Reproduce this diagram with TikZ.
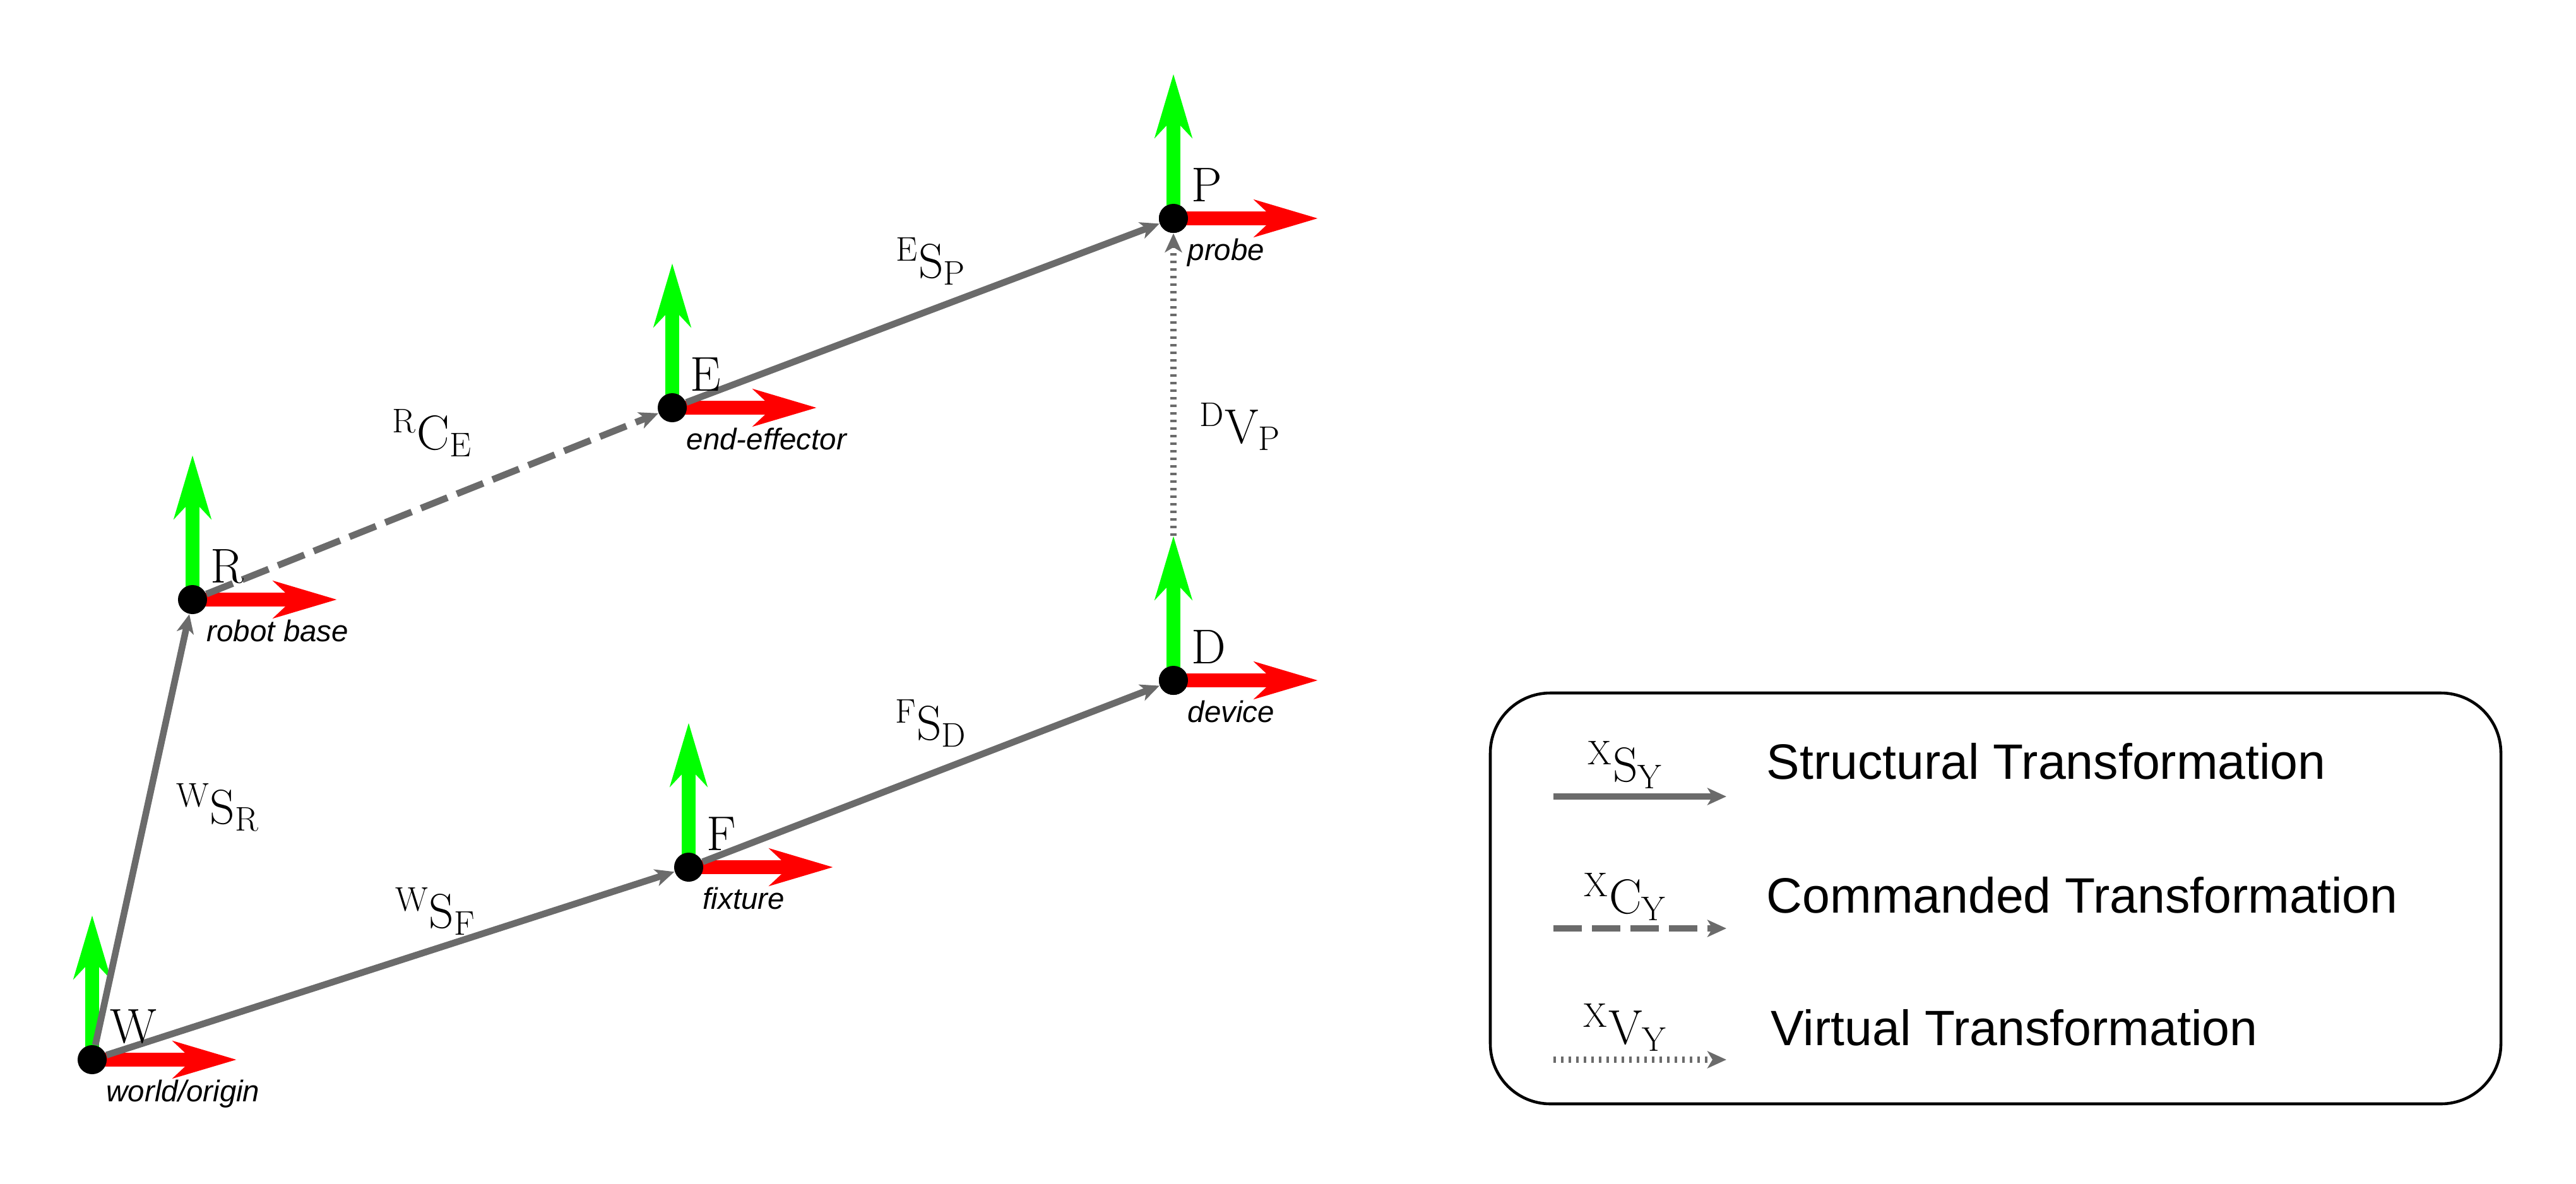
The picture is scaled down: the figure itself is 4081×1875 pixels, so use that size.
\documentclass[tikz,border=0pt]{standalone}
\usepackage{fontspec}
\newfontfamily\arial{Liberation Sans}
\usetikzlibrary{arrows.meta,calc}
\definecolor{cgray}{HTML}{6B6B6B}
\definecolor{cgreen}{HTML}{00FF00}
\definecolor{cred}{HTML}{FF0000}
\begin{document}
\begin{tikzpicture}[x=0.01cm,y=-0.01cm,
  dot/.style={circle,fill=black,inner sep=0pt,minimum size=0.46cm},
  axis/.style={line width=6.2pt,-{Stealth[length=1cm,width=0.58cm,inset=0.3cm]}},
  xax/.style={axis,cred},
  yax/.style={axis,cgreen},
  tr/.style={line width=3pt,cgray,-{Stealth[length=0.3cm,width=0.27cm,inset=0.08cm]}},
  cmd/.style={tr,dash pattern=on 0.45cm off 0.16cm},
  vir/.style={tr,dash pattern=on 0.04cm off 0.08cm},
  let/.style={anchor=base west,inner sep=0pt,font=\fontsize{22}{26}\selectfont},
  nm/.style={anchor=base west,inner sep=0pt,font=\arial\itshape\fontsize{13.5}{16}\selectfont},
  tl/.style={anchor=base,inner sep=0pt,font=\fontsize{22}{26}\selectfont},
  lg/.style={anchor=base west,inner sep=0pt,font=\arial\fontsize{22.4}{26}\selectfont}]
\useasboundingbox (0,0) rectangle (4081,1875);
\coordinate (w) at (146,1679);
\coordinate (r) at (305,950);
\coordinate (e) at (1065,646);
\coordinate (p) at (1859,346);
\coordinate (f) at (1091,1374);
\coordinate (d) at (1859,1078);
\foreach \c in {w,r,e,p,f,d}{
  \coordinate (\c x) at ($(\c)+(229,0)$);
  \coordinate (\c y) at ($(\c)+(0,-229)$);
}
\node[dot] (P) at (p) {};
\node[dot] (D) at (d) {};
\draw[vir] (dy) -- (P);
\foreach \c in {w,r,e,p,f,d}{
  \draw[yax] (\c) -- (\c y);
  \draw[xax] (\c) -- (\c x);
}
\node[dot] (W) at (w) {};
\node[dot] (R) at (r) {};
\node[dot] (E) at (e) {};
\node[dot] (P2) at (p) {};
\node[dot] (F) at (f) {};
\node[dot] (D2) at (d) {};
\draw[tr] (W) -- (R);
\draw[tr] (W) -- (F);
\draw[cmd] (R) -- (E);
\draw[tr] (E) -- (P2);
\draw[tr] (F) -- (D2);
\foreach \c/\l/\n in {w/W/world\slash origin, r/R/robot base, e/E/end-effector, p/P/probe, f/F/fixture, d/D/device}{
  \node[let] at ($(\c)+(28,-27)$) {\l};
  \node[nm] at ($(\c)+(22,66)$) {\n};
}
\node[tl] (lwr) at (345,1305) {$^{\mathrm{W}}\mathrm{S}_{\mathrm{R}}$};
\node[tl] (lwf) at (690,1470) {$^{\mathrm{W}}\mathrm{S}_{\mathrm{F}}$};
\node[tl] (lre) at (685,712) {$^{\mathrm{R}}\mathrm{C}_{\mathrm{E}}$};
\node[tl] (lep) at (1475,440) {$^{\mathrm{E}}\mathrm{S}_{\mathrm{P}}$};
\node[tl] (lfd) at (1475,1172) {$^{\mathrm{F}}\mathrm{S}_{\mathrm{D}}$};
\node[tl] (ldp) at (1965,702) {$^{\mathrm{D}}\mathrm{V}_{\mathrm{P}}$};
\draw[line width=1.3pt,rounded corners=0.95cm] (2361,1098) rectangle (3962,1749);
\coordinate (a1) at (2461,1262); \coordinate (b1) at (2735,1262);
\coordinate (a2) at (2461,1471); \coordinate (b2) at (2735,1471);
\coordinate (a3) at (2461,1679); \coordinate (b3) at (2735,1679);
\draw[tr] (a1) -- (b1);
\draw[cmd] (a2) -- (b2);
\draw[vir] (a3) -- (b3);
\node[tl] (k1) at (2575,1238) {$^{\mathrm{X}}\mathrm{S}_{\mathrm{Y}}$};
\node[tl] (k2) at (2575,1447) {$^{\mathrm{X}}\mathrm{C}_{\mathrm{Y}}$};
\node[tl] (k3) at (2575,1654) {$^{\mathrm{X}}\mathrm{V}_{\mathrm{Y}}$};
\node[lg] (t1) at (2798,1234) {Structural Transformation};
\node[lg] (t2) at (2798,1446) {Commanded Transformation};
\node[lg] (t3) at (2805,1656) {Virtual Transformation};
\end{tikzpicture}
\end{document}
